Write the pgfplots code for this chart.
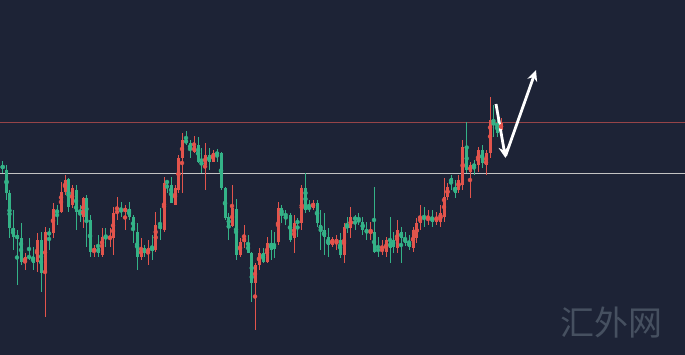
\documentclass[border=0pt]{standalone}
\usepackage{fontspec}
\usepackage{pgfplots}
\usepackage{pgfplotstable}
\pgfplotsset{compat=1.18}
\usetikzlibrary{arrows.meta}
\newfontfamily\cjk{Noto Sans CJK SC}
\definecolor{bg}{RGB}{29,35,54}
\definecolor{cgreen}{RGB}{52,178,135}
\definecolor{cred}{RGB}{226,84,76}
\definecolor{linered}{RGB}{150,68,72}
\definecolor{linewhite}{RGB}{195,195,195}
\definecolor{wm}{RGB}{70,80,96}

% x = candle position, wt/wb = wick top/bottom, bt/bb = body top/bottom (screen y, downward)
\pgfplotstableread{
x wt wb bt bb
2.7 161 173 166 168
6.5 165 200 170 193
9.5 190 238 193 228
13 210 250 228 237
17 230 285 235 239
21 223 265 238 262
29 238 260 256 258
33 247 270 257 263
41 232 292 240 273
49 228 250 232 235
57 205 225 210 213
68.5 178 212 179 207
76 185 230 190 212
80 205 222 210 213
86.5 195 247 198 220
90 215 257 220 252
98 235 257 248 253
105.7 228 247 235 238
121 202 217 209 212
129 202 220 209 217
133 215 243 217 230
137 223 270 232 257
144 245 257 248 253
152 235 260 247 251
160 208 240 225 229
167 180 193 181 183
171 177 203 185 203
186 131 145 140 143
190 140 158 143 150
198 137 163 145 162
201.5 148 173 162 165
209 148 170 155 162
217 149 162 152 155
221 152 190 153 188
225 187 220 188 218
228.7 213 240 217 226
236 199 260 209 255
248 235 253 243 253
251.7 252 302 253 283
263 248 263 253 262
271 230 260 243 250
274 232 258 244 249
281.7 205 223 208 215
285.7 210 225 214 216
290 213 242 215 240
297.5 218 237 221 223
305.5 173 213 188 210
309 200 212 207 209
317 200 227 203 223
320.7 210 250 225 230
324 213 255 230 237
328 228 257 237 245
340 233 258 240 255
347 217 233 225 228
355 215 230 217 220
358.7 213 225 219 222
362.7 217 235 222 230
366.7 222 240 230 233
374 187 253 232 252
378 237 257 249 251
390 217 263 242 248
393 232 253 240 247
401 227 263 232 238
405 232 246 238 243
409 235 250 242 247
424 207 227 217 219
432 210 227 217 222
451 175 190 178 183
455 180 198 187 193
466.7 122 173 147 170
474 160 175 164 167
482 145 168 150 163
493.5 105 137 122 125
497 113 137 123 133
}\downtab

\pgfplotstableread{
x wt wb bt bb
25 253 270 257 262
37 233 272 240 262
45 227 317 232 273
53 203 238 209 233
61 182 213 192 212
65 175 195 180 192
72 185 208 188 205
83 197 228 198 217
94 245 257 248 252
102 228 257 237 255
110 228 247 237 239
113 207 255 213 238
117 197 220 211 213
125 205 230 208 212
141 238 260 248 257
148 240 265 248 253
155.7 212 252 225 250
164 177 232 183 230
175 185 205 188 205
178.5 155 193 158 190
182 133 193 140 158
194 136 153 146 152
205 143 190 155 165
213 150 162 153 162
232 185 227 208 226
240 238 257 242 255
244 225 248 238 242
255 263 330 265 283
259 248 270 253 265
267 237 263 243 262
278 202 245 208 242
294 215 253 223 238
301.7 185 230 188 223
313 200 210 203 208
332 237 247 239 245
336.5 235 250 239 243
344 223 263 227 255
350.7 207 238 217 228
370.7 222 240 231 233
382 240 255 249 251
386 237 257 240 252
397 220 253 230 248
413 227 252 230 248
416.7 218 243 223 238
420 205 230 217 223
428 210 225 218 220
436.5 212 225 217 222
440.5 205 227 213 222
444 178 222 197 217
447.5 183 200 187 197
458.5 175 193 180 190
462.7 140 190 147 185
470 162 198 165 172
478 147 172 150 165
486 150 175 153 165
490 97 158 120 153
501 118 135 123 130
}\uptab

\begin{document}
\begin{tikzpicture}
\begin{axis}[
  width=685pt, height=355pt, scale only axis,
  xmin=0, xmax=685, ymin=0, ymax=355, y dir=reverse,
  axis line style={draw=none}, ticks=none,
  axis background/.style={fill=bg},
  wick/.style={only marks, mark=none,
    error bars/.cd, y dir=both, y explicit, error mark=none,
    error bar style={line width=1pt}},
  body/.style={only marks, mark=none,
    error bars/.cd, y dir=both, y explicit, error mark=none,
    error bar style={line width=3pt}},
]
\addplot[linered, line width=0.9pt] coordinates {(0,122) (685,122)};
\addplot[linewhite, line width=0.9pt] coordinates {(0,173) (685,173)};

\addplot[cgreen, wick] table[x=x, y expr={(\thisrow{wt}+\thisrow{wb})/2}, y error expr={(\thisrow{wb}-\thisrow{wt})/2}] {\downtab};
\addplot[cgreen, body] table[x=x, y expr={(\thisrow{bt}+\thisrow{bb})/2}, y error expr={(\thisrow{bb}-\thisrow{bt})/2}] {\downtab};
\addplot[cred, wick] table[x=x, y expr={(\thisrow{wt}+\thisrow{wb})/2}, y error expr={(\thisrow{wb}-\thisrow{wt})/2}] {\uptab};
\addplot[cred, body] table[x=x, y expr={(\thisrow{bt}+\thisrow{bb})/2}, y error expr={(\thisrow{bb}-\thisrow{bt})/2}] {\uptab};

\addplot[white, line width=2.8pt, -{Stealth[length=11pt,width=10pt]}] coordinates {(496,104) (505.5,158)};
\addplot[white, line width=2.8pt, -{Stealth[length=11pt,width=10pt]}] coordinates {(505.5,156) (536,70)};

\node[text=wm, anchor=center] at (axis cs:611,323) {\cjk\fontsize{34}{34}\selectfont 汇外网};
\end{axis}
\end{tikzpicture}
\end{document}
